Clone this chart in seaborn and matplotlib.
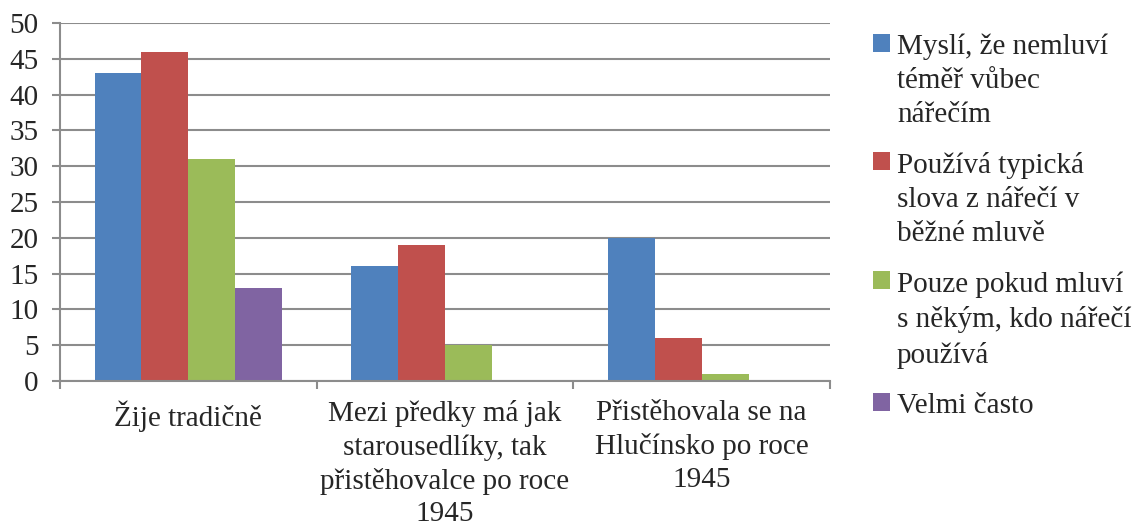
import matplotlib
matplotlib.use("Agg")
import matplotlib.pyplot as plt
import seaborn as sns
import pandas as pd

categories = ["Žije tradičně",
              "Mezi předky má jak\nstarousedlíky, tak\npřistěhovalce po roce\n1945",
              "Přistěhovala se na\nHlučínsko po roce\n1945"]
series = ["Myslí, že nemluví\ntéměř vůbec\nnářečím",
          "Používá typická\nslova z nářečí v\nběžné mluvě",
          "Pouze pokud mluví\ns někým, kdo nářečí\npoužívá",
          "Velmi často"]
values = {
    series[0]: [43, 16, 20],
    series[1]: [46, 19, 6],
    series[2]: [31, 5, 1],
    series[3]: [13, 0, 0],
}
colors = ["#4F81BD", "#C0504D", "#9BBB59", "#8064A2"]
yticks = [0, 5, 10, 15, 20, 25, 30, 35, 40, 45, 50]

rows = []
for s in series:
    for c, v in zip(categories, values[s]):
        rows.append({"cat": c, "series": s, "value": v})
df = pd.DataFrame(rows)

sns.set_theme(style="white")
plt.rcParams['font.family'] = ['Liberation Serif', 'DejaVu Serif']
FS = 21

fig = plt.figure(figsize=(11.36, 5.29), dpi=100)
ax = fig.add_axes([60/1136, 1 - 381/529, (830-60)/1136, (381-23)/529])

sns.barplot(data=df, x="cat", y="value", hue="series", order=categories,
            hue_order=series, palette=colors, width=0.73, saturation=1,
            ax=ax, legend=True)
for p in ax.patches:
    p.set_edgecolor("none")

ax.set_ylim(0, 50)
ax.set_xlim(-0.5, 2.5)
ax.set_yticks(yticks)
ax.set_yticklabels([str(t) for t in yticks], fontsize=FS)
ax.yaxis.grid(True, color="#8c8c8c", linewidth=1.5)
ax.set_axisbelow(True)
ax.set_xlabel("")
ax.set_ylabel("")
for s in ["top", "right"]:
    ax.spines[s].set_visible(False)
for s in ["left", "bottom"]:
    ax.spines[s].set_color("#8c8c8c")
    ax.spines[s].set_linewidth(1.5)

ax.tick_params(axis="y", left=True, length=5.5, width=1.5, color="#8c8c8c", pad=10, labelsize=FS)
ax.set_xticks([0, 1, 2])
ax.set_xticklabels(categories, fontsize=FS, linespacing=1.33)
ax.tick_params(axis="x", bottom=False, pad=8, labelsize=FS)
ax.set_xticks([-0.5, 0.5, 1.5, 2.5], minor=True)
ax.tick_params(axis="x", which="minor", bottom=True, length=5.5, width=1.5, color="#8c8c8c")

h, l = ax.get_legend_handles_labels()
ax.get_legend().remove()
leg = fig.legend(h, l, loc="upper left", bbox_to_anchor=(873/1136, 1 - 34/529),
                 frameon=False, fontsize=FS, handlelength=0.57, handleheight=0.57,
                 handletextpad=0.25, labelspacing=0.82, borderaxespad=0, borderpad=0)
for t in leg.get_texts():
    t.set_linespacing(1.4)
for col in leg._legend_handle_box.get_children():
    for row in col.get_children():
        row.align = "top"

fig.savefig("out.png", dpi=100)
